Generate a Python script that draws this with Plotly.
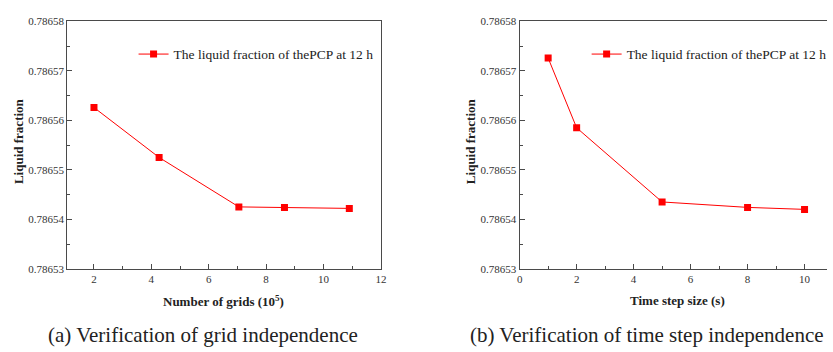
import plotly.graph_objects as go

# Grid independence study
grids = [2.0, 4.27, 7.05, 8.64, 10.9]          # number of grids (x 10^5)
frac_grid = [0.7865626, 0.7865525, 0.7865425, 0.7865424, 0.7865422]

# Time step independence study
steps = [1, 2, 5, 8, 10]                        # time step size (s)
frac_step = [0.7865726, 0.7865585, 0.7865435, 0.7865424, 0.7865420]

series_name = "The liquid fraction of thePCP at 12 h"
y_ticks = [0.78653, 0.78654, 0.78655, 0.78656, 0.78657, 0.78658]

W, H = 833, 352
RED = "#ff0000"
AXC = "#4a4a4a"
SERIF = "Times New Roman, Liberation Serif, serif"

fig = go.Figure()
fig.add_trace(go.Scatter(
    x=grids, y=frac_grid, mode="lines+markers", name=series_name, showlegend=True,
    line=dict(color=RED, width=1), marker=dict(symbol="square", size=7, color=RED),
    xaxis="x", yaxis="y", legend="legend"))
fig.add_trace(go.Scatter(
    x=steps, y=frac_step, mode="lines+markers", name=series_name, showlegend=True,
    line=dict(color=RED, width=1), marker=dict(symbol="square", size=7, color=RED),
    xaxis="x2", yaxis="y2", legend="legend2"))

y_top, y_bot = 16, 272
ydom = [(H - y_bot) / H, (H - y_top) / H]
left_dom = [65 / W, 382 / W]
right_dom = [522.3 / W, 1.0]

tickfont = dict(family=SERIF, size=11, color="#333333")
common_y = dict(range=[0.78653, 0.78658], tickvals=y_ticks, tickformat=".5f",
                showline=True, linecolor=AXC, linewidth=1.2, ticks="inside",
                ticklen=5, tickcolor=AXC, showgrid=False, zeroline=False,
                tickfont=tickfont,
                minor=dict(ticks="inside", ticklen=3, tickcolor=AXC, dtick=0.000005,
                           showgrid=False))
common_x = dict(showline=True, linecolor=AXC, linewidth=1.2, ticks="inside",
                ticklen=5, tickcolor=AXC, showgrid=False, zeroline=False,
                tickfont=tickfont, dtick=2, tick0=0,
                minor=dict(ticks="inside", ticklen=3, tickcolor=AXC, dtick=1,
                           showgrid=False))

legend_font = dict(family=SERIF, size=13.5, color="#222222")

fig.update_layout(
    width=W, height=H, margin=dict(l=0, r=0, t=0, b=0),
    paper_bgcolor="white", plot_bgcolor="white", showlegend=True,
    font=dict(family=SERIF, size=12, color="#222222"),
    xaxis=dict(domain=left_dom, range=[1.07, 12], anchor="y", mirror=True, **common_x),
    yaxis=dict(domain=ydom, anchor="x", mirror=True, **common_y),
    xaxis2=dict(domain=right_dom, range=[0, (W - 522.3) / 28.8], anchor="y2",
                mirror=True, **common_x),
    yaxis2=dict(domain=ydom, anchor="x2", mirror=False, **common_y),
    legend=dict(x=132 / W, y=1 - 50 / H, xanchor="left", yanchor="middle",
                bgcolor="rgba(0,0,0,0)", font=legend_font),
    legend2=dict(x=590 / W, y=1 - 50 / H, xanchor="left", yanchor="middle",
                 bgcolor="rgba(0,0,0,0)", font=legend_font),
)

def label(x, y, text, size, bold=False, angle=0):
    fig.add_annotation(x=x / W, y=1 - y / H, xref="paper", yref="paper",
                       text=f"<b>{text}</b>" if bold else text, showarrow=False,
                       textangle=angle, xanchor="center", yanchor="middle",
                       font=dict(family=SERIF, size=size, color="#222222"))

label(15, 140, "Liquid fraction", 13, bold=True, angle=-90)
label(472, 140, "Liquid fraction", 13, bold=True, angle=-90)
label(223, 305, "Number of grids (10<sup>5</sup>)", 13, bold=True)
label(682, 305, "Time step size (s)", 13, bold=True)
label(202, 341, "(a) Verification of grid independence", 21)
label(651, 341, "(b) Verification of time step independence", 21)

fig.write_html("out.html")
